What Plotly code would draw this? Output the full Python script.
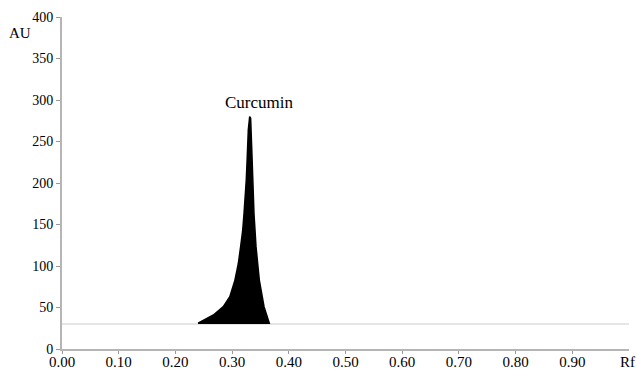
import plotly.graph_objects as go

# Data
rf_peak = [0.240, 0.267, 0.2845, 0.296, 0.305, 0.311, 0.315, 0.3187, 0.321, 0.3233,
           0.325, 0.3263, 0.3275, 0.3286, 0.331, 0.3327, 0.3345, 0.3363, 0.3386,
           0.3422, 0.348, 0.3563, 0.362, 0.3656]
au_peak = [31, 41, 51, 63, 83, 103, 123, 143, 163, 183, 204, 224, 244, 264, 280,
           278, 244, 204, 163, 123, 83, 51, 37, 31]
baseline_au = 30
x_ticks = [0.0, 0.1, 0.2, 0.3, 0.4, 0.5, 0.6, 0.7, 0.8, 0.9]
x_tick_text = ["0.00", "0.10", "0.20", "0.30", "0.40", "0.50", "0.60", "0.70", "0.80", "0.90"]
y_ticks = [0, 50, 100, 150, 200, 250, 300, 350, 400]
peak_name = "Curcumin"

FONT = "Liberation Serif"

fig = go.Figure()
fig.add_trace(go.Scatter(
    x=[0, 1.0], y=[baseline_au, baseline_au], mode="lines",
    line=dict(color="#dcdcdc", width=1.5), hoverinfo="skip", showlegend=False))
fig.add_trace(go.Scatter(
    x=rf_peak + [rf_peak[0]], y=au_peak + [au_peak[0]], mode="lines",
    fill="toself", fillcolor="black", line=dict(color="black", width=1.5),
    showlegend=False))

fig.add_annotation(x=0.347, y=297, text=peak_name, showarrow=False,
                   font=dict(family=FONT, size=17, color="black"))
fig.add_annotation(x=-0.074, y=0.952, xref="paper", yref="paper", text="AU",
                   showarrow=False, xanchor="center", yanchor="middle",
                   font=dict(family=FONT, size=15, color="black"))
fig.add_annotation(x=0.9965, y=-0.039, xref="paper", yref="paper", text="Rf",
                   showarrow=False, xanchor="center", yanchor="middle",
                   font=dict(family=FONT, size=15, color="black"))

fig.update_layout(
    width=637, height=370,
    margin=dict(l=62, r=8, t=17, b=21),
    plot_bgcolor="white", paper_bgcolor="white",
    font=dict(family=FONT, size=15, color="black"),
    xaxis=dict(range=[0, 1.0], tickvals=x_ticks, ticktext=x_tick_text, automargin=False,
               showgrid=False, zeroline=False, showline=True, linecolor="#b5b5b5",
               linewidth=2, ticks="outside", ticklen=3, tickcolor="#999999", tickwidth=1,
               ticklabelstandoff=-5, tickfont=dict(size=15)),
    yaxis=dict(range=[0, 400], tickvals=y_ticks, automargin=False,
               showgrid=False, zeroline=False, showline=True, linecolor="#b5b5b5",
               linewidth=2, ticks="outside", ticklen=4, tickcolor="#999999", tickwidth=1,
               tickfont=dict(size=14)),
)

fig.write_html("out.html", config={"displayModeBar": False},
               post_script="document.body.style.margin='0';document.body.style.overflow='hidden';")
